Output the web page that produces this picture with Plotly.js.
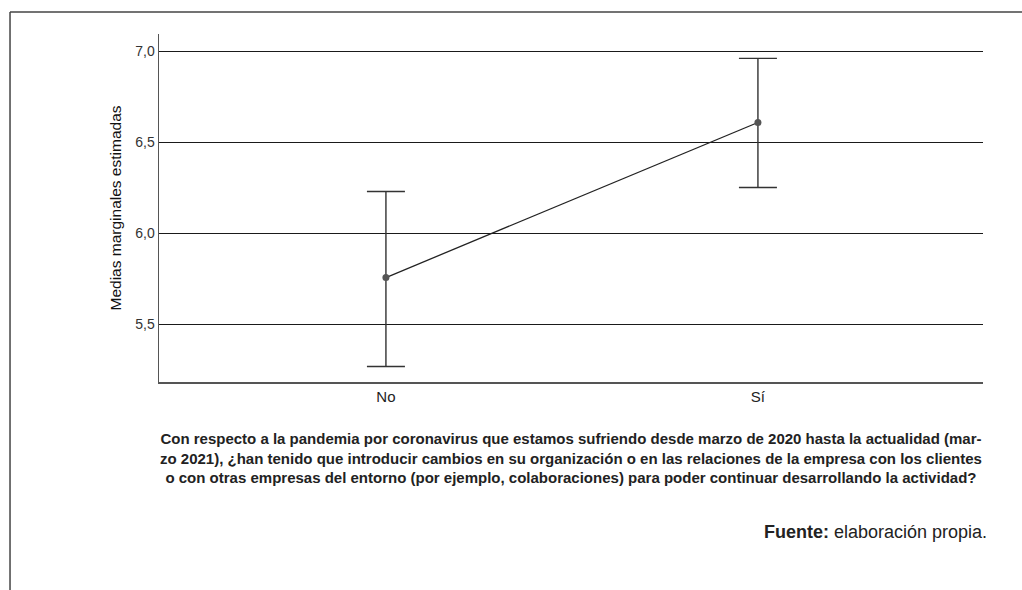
<!DOCTYPE html>
<html>
<head>
<meta charset="utf-8">
<script src="https://cdn.plot.ly/plotly-3.0.1.min.js"></script>
<style>html,body{margin:0;padding:0;background:#fff;}#chart{width:1022px;height:590px;}</style>
</head>
<body>
<div id="chart"></div>
<script>
var categories = ['No', 'Sí'];
var means = [5.758, 6.610];
var upper = [6.231, 6.962];
var lower = [5.269, 6.253];
var yTicks = [5.5, 6.0, 6.5, 7.0];
var yTitle = 'Medias marginales estimadas';
var caption = 'Con respecto a la pandemia por coronavirus que estamos sufriendo desde marzo de 2020 hasta la actualidad (mar-<br>zo 2021), ¿han tenido que introducir cambios en su organización o en las relaciones de la empresa con los clientes<br>o con otras empresas del entorno (por ejemplo, colaboraciones) para poder continuar desarrollando la actividad?';
var source = '<b>Fuente:</b> elaboración propia.';

var errPlus = means.map(function(m, i){ return upper[i] - m; });
var errMinus = means.map(function(m, i){ return m - lower[i]; });

var trace = {
  x: [0, 1],
  y: means,
  type: 'scatter',
  mode: 'lines+markers',
  line: {color: '#222', width: 1.3},
  marker: {color: '#555', size: 7},
  error_y: {type: 'data', symmetric: false, array: errPlus, arrayminus: errMinus, color: '#333', thickness: 1.4, width: 19},
  hoverinfo: 'none',
  showlegend: false
};

var font = 'Liberation Sans, Arial, sans-serif';
var layout = {
  width: 1022, height: 590,
  margin: {l: 159, r: 39, t: 34, b: 208},
  paper_bgcolor: '#fff', plot_bgcolor: '#fff',
  separators: ',.',
  font: {family: font, color: '#222'},
  xaxis: {
    range: [-0.61, 1.605],
    tickvals: [0, 1], ticktext: categories,
    showgrid: false, zeroline: false,
    showline: true, linecolor: '#555', linewidth: 1.5,
    ticks: '', tickfont: {size: 15, color: '#222'},
    fixedrange: true
  },
  yaxis: {
    range: [5.18406, 7.09615],
    tickvals: yTicks, tickformat: '.1f',
    showgrid: true, gridcolor: '#1a1a1a', gridwidth: 1.5,
    zeroline: false,
    showline: true, linecolor: '#555', linewidth: 1.5,
    ticks: '', ticklen: 0, tickfont: {size: 14, color: '#333'},
    title: {text: yTitle, font: {size: 15.5, color: '#111'}, standoff: 10},
    fixedrange: true
  },
  shapes: [
    {type: 'line', xref: 'paper', yref: 'paper', x0: -0.1808, x1: 1.06, y0: 1.0632, y1: 1.0632, line: {color: '#444', width: 1.5}},
    {type: 'line', xref: 'paper', yref: 'paper', x0: -0.1808, x1: -0.1808, y0: 1.0632, y1: -0.62, line: {color: '#444', width: 1.5}}
  ],
  annotations: [
    {text: caption, xref: 'paper', yref: 'paper', x: 0.4995, y: -0.218, xanchor: 'center', yanchor: 'middle', showarrow: false, align: 'center',
     font: {family: font, size: 15, color: '#222', weight: 600}},
    {text: source, xref: 'paper', yref: 'paper', x: 1.007, y: -0.431, xanchor: 'right', yanchor: 'middle', showarrow: false, align: 'right',
     font: {family: font, size: 18, color: '#222'}}
  ]
};

Plotly.newPlot('chart', [trace], layout, {displayModeBar: false, staticPlot: true});
</script>
</body>
</html>
